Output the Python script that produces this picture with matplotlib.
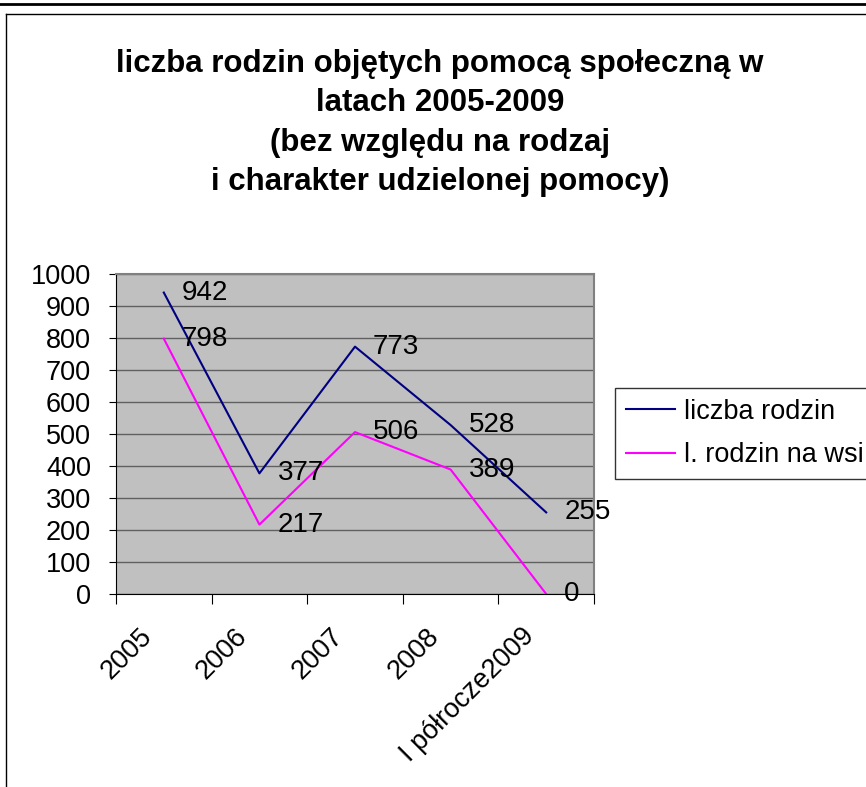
import matplotlib
matplotlib.use("Agg")
import matplotlib.pyplot as plt
from matplotlib.lines import Line2D
from matplotlib.transforms import ScaledTranslation

categories = ["2005", "2006", "2007", "2008", "I półrocze2009"]
rodziny = [942, 377, 773, 528, 255]
rodziny_wies = [798, 217, 506, 389, 0]
series_names = ["liczba rodzin", "l. rodzin na wsi"]
title = ("liczba rodzin objętych pomocą społeczną w\nlatach 2005-2009\n"
         "(bez względu na rodzaj\ni charakter udzielonej pomocy)")

plt.rcParams["font.family"] = ["Liberation Sans", "DejaVu Sans"]

fig = plt.figure(figsize=(8.66, 7.87), dpi=100)
fig.patch.set_facecolor("white")

# frame lines of the chart area
fig.add_artist(Line2D([0, 1], [1 - 4/787, 1 - 4/787], color="black", lw=2))
fig.add_artist(Line2D([6/866, 1], [1 - 14/787, 1 - 14/787], color="black", lw=1))
fig.add_artist(Line2D([6/866, 6/866], [0, 1 - 14/787], color="black", lw=1))

ax = fig.add_axes([116/866, 1 - 594/787, 478/866, 320/787])
ax.set_facecolor("#C0C0C0")

x = list(range(len(categories)))
ax.plot(x, rodziny, color="#000080", lw=1.5, label=series_names[0])
ax.plot(x, rodziny_wies, color="#FF00FF", lw=1.5, label=series_names[1])

for xi, v in zip(x, rodziny):
    ax.annotate(str(v), (xi, v), xytext=(13, 0), textcoords="offset points",
                va="center", ha="left", fontsize=20)
for xi, v in zip(x, rodziny_wies):
    ax.annotate(str(v), (xi, v), xytext=(13, 0), textcoords="offset points",
                va="center", ha="left", fontsize=20, clip_on=False)

ax.set_xlim(-0.5, 4.5)
ax.set_ylim(0, 1000)
ax.set_yticks(range(0, 1001, 100))
ax.yaxis.grid(True, color="#606060", lw=1)
ax.set_axisbelow(True)
ax.tick_params(axis="y", labelsize=19.5, length=5, direction="out", pad=13)

ax.set_xticks([i - 0.5 for i in range(len(categories) + 1)])
ax.set_xticklabels([])
ax.tick_params(axis="x", which="major", length=7, direction="out")
ax.set_xticks(x, minor=True)
ax.set_xticklabels(categories, minor=True, rotation=45, ha="right",
                   rotation_mode="anchor", fontsize=19.5)
ax.tick_params(axis="x", which="minor", length=0, pad=21)
shift = ScaledTranslation(-25/100, 0, fig.dpi_scale_trans)
for lab in ax.get_xticklabels(minor=True):
    lab.set_transform(lab.get_transform() + shift)

for s in ["top", "right"]:
    ax.spines[s].set_color("#808080")
    ax.spines[s].set_linewidth(1.5)
for s in ["left", "bottom"]:
    ax.spines[s].set_color("black")

fig.text(0.508, 1 - 123/787, title, ha="center", va="center",
         fontsize=22.5, fontweight="bold", linespacing=1.4)

leg = fig.legend(loc="upper left", bbox_to_anchor=(615/866, 1 - 388/787),
                 fontsize=19.5, frameon=True, fancybox=False, handlelength=1.8,
                 borderpad=0.4, labelspacing=0.65, handletextpad=0.35,
                 borderaxespad=0)
leg.get_frame().set_edgecolor("black")
leg.get_frame().set_linewidth(1)

fig.savefig("out.png", dpi=100)
